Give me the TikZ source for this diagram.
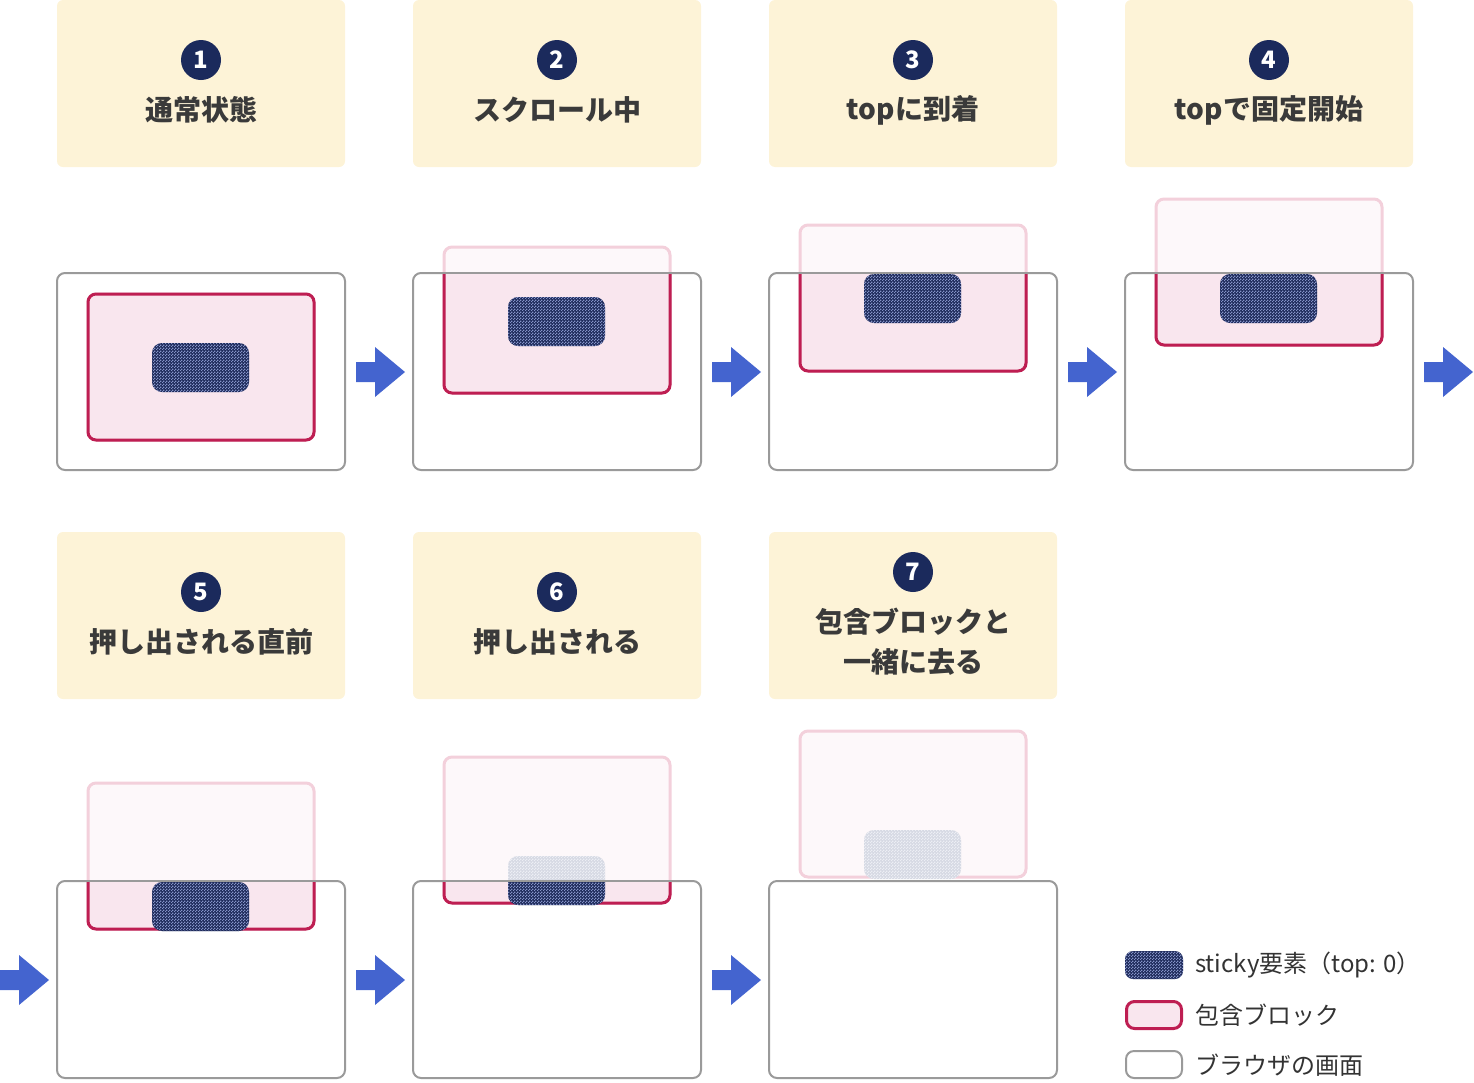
\documentclass[tikz,border=0pt]{standalone}
\usepackage{fontspec}
\setmainfont{Noto Sans CJK JP}
\usetikzlibrary{patterns}
\definecolor{cream}{HTML}{FDF3D7}
\definecolor{screengray}{HTML}{9A9A9A}
\definecolor{crimson}{HTML}{BE1E52}
\definecolor{blockpink}{HTML}{F9E6EE}
\definecolor{fadepink}{HTML}{F3D0DB}
\definecolor{fadefill}{HTML}{FDF8FA}
\definecolor{navy}{HTML}{1E2A5A}
\definecolor{checklight}{HTML}{8593C8}
\definecolor{fadenavy}{HTML}{D6D9E3}
\definecolor{fadelight}{HTML}{ECEEF4}
\definecolor{badgenavy}{HTML}{1B2A5C}
\definecolor{titlegray}{HTML}{3A3A3A}
\definecolor{legendgray}{HTML}{333333}
\definecolor{flowblue}{HTML}{4464CF}
\pgfdeclarepatternformonly{fchecker}{\pgfpointorigin}{\pgfqpoint{3pt}{3pt}}{\pgfqpoint{3pt}{3pt}}{%
  \pgfpathrectangle{\pgfpointorigin}{\pgfqpoint{1.5pt}{1.5pt}}%
  \pgfpathrectangle{\pgfqpoint{1.5pt}{1.5pt}}{\pgfqpoint{1.5pt}{1.5pt}}%
  \pgfusepath{fill}}
\tikzset{
  labelbox/.style={fill=cream, rounded corners=6pt, minimum width=288pt, minimum height=167pt, inner sep=0pt},
  screen/.style={rounded corners=8pt, line width=2pt, draw=screengray},
  blockfull/.style={rounded corners=8pt, line width=3pt, draw=crimson, fill=blockpink},
  blockfade/.style={rounded corners=8pt, line width=3pt, draw=fadepink, fill=fadefill},
  badge/.style={circle, fill=badgenavy, minimum size=40pt, inner sep=0pt, text=white, font=\bfseries\fontsize{24}{24}\selectfont},
  title/.style={text=titlegray, font=\bfseries\fontsize{28}{40}\selectfont, align=center, inner sep=0pt},
  flow/.style={fill=flowblue},
  legendtext/.style={anchor=west, text=legendgray, font=\fontsize{24}{24}\selectfont, inner sep=0pt},
}
\newcommand\stickyshape[4]{%
  \fill[#3, rounded corners=10pt] (#1,#2) rectangle ++(97,49);
  \fill[pattern=fchecker, pattern color=#4, rounded corners=10pt] (#1,#2) rectangle ++(97,49);}
\newcommand\statepanel[4]{%
  \fill[white, rounded corners=8pt] (#1,#2) rectangle ++(288,197);
  \draw[blockfade] (#1+31,#3) rectangle ++(226,146);
  \stickyshape{#1+95}{#4}{fadenavy}{fadelight}
  \draw[screen] (#1,#2) rectangle ++(288,197);
  \begin{scope}
    \clip (#1-10,#2+1) rectangle ++(308,220);
    \draw[blockfull] (#1+31,#3) rectangle ++(226,146);
    \stickyshape{#1+95}{#4}{navy}{checklight}
  \end{scope}}
\newcommand\flowarrow[2]{%
  \fill[flow] (#1,#2-10) -- ++(19,0) -- ++(0,-15) -- (#1+49,#2) -- (#1+19,#2+25) -- ++(0,-15) -- (#1,#2+10) -- cycle;}
\begin{document}
\begin{tikzpicture}[x=1pt, y=-1pt]
\useasboundingbox (0,0) rectangle (1474,1082);
% label boxes
\node[labelbox] (l1) at (201,83.5) {};
\node[labelbox] (l2) at (557,83.5) {};
\node[labelbox] (l3) at (913,83.5) {};
\node[labelbox] (l4) at (1269,83.5) {};
\node[labelbox] (l5) at (201,615.5) {};
\node[labelbox] (l6) at (557,615.5) {};
\node[labelbox] (l7) at (913,615.5) {};
\node[badge] (b1) at (201,60) {1};
\node[badge] (b2) at (557,60) {2};
\node[badge] (b3) at (913,60) {3};
\node[badge] (b4) at (1269,60) {4};
\node[badge] (b5) at (201,592) {5};
\node[badge] (b6) at (557,592) {6};
\node[badge] (b7) at (913,572) {7};
\node[title] (t1) at (201,110) {通常状態};
\node[title] (t2) at (557,110) {スクロール中};
\node[title] (t3) at (913,110) {topに到着};
\node[title] (t4) at (1269,110) {topで固定開始};
\node[title] (t5) at (201,642) {押し出される直前};
\node[title] (t6) at (557,642) {押し出される};
\node[title] (t7a) at (913,622) {包含ブロックと};
\node[title] (t7b) at (913,662) {一緒に去る};
% panels
\statepanel{57}{273}{294}{343}
\statepanel{413}{273}{247}{297}
\statepanel{769}{273}{225}{274}
\statepanel{1125}{273}{199}{274}
\statepanel{57}{881}{783}{882}
\statepanel{413}{881}{757}{856}
\statepanel{769}{881}{731}{830}
% arrows
\flowarrow{356}{372}
\flowarrow{712}{372}
\flowarrow{1068}{372}
\flowarrow{1424}{372}
\flowarrow{0}{980}
\flowarrow{356}{980}
\flowarrow{712}{980}
% legend
\fill[navy, rounded corners=8pt] (1125,951) rectangle (1183,979);
\fill[pattern=fchecker, pattern color=checklight, rounded corners=8pt] (1125,951) rectangle (1183,979);
\draw[blockfull] (1126.5,1001.5) rectangle (1181.5,1028.5);
\draw[screen, fill=white] (1126,1051) rectangle (1182,1078);
\node[legendtext] (g1) at (1195,965) {sticky要素（top: 0）};
\node[legendtext] (g2) at (1195,1015) {包含ブロック};
\node[legendtext] (g3) at (1195,1065) {ブラウザの画面};
\end{tikzpicture}
\end{document}
